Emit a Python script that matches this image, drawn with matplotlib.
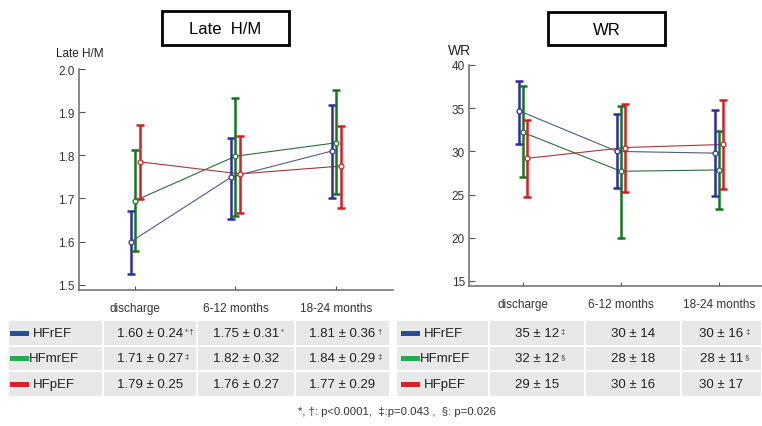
"""
Late H/M and WR over follow-up, by HF group
"""
import numpy as np
import matplotlib
matplotlib.use('Agg')
import matplotlib.pyplot as plt
from matplotlib.patches import Rectangle

plt.rcParams['font.family'] = ['Liberation Sans', 'DejaVu Sans']

# ---------------- data ----------------
times = ['discharge', '6-12 months', '18-24 months']
groups = ['HFrEF', 'HFmrEF', 'HFpEF']

# Late H/M: mean and error bar ends
hm_mean = {'HFrEF': [1.60, 1.75, 1.81], 'HFmrEF': [1.695, 1.798, 1.829], 'HFpEF': [1.785, 1.757, 1.775]}
hm_lo = {'HFrEF': [1.525, 1.652, 1.70], 'HFmrEF': [1.578, 1.66, 1.71], 'HFpEF': [1.698, 1.666, 1.677]}
hm_hi = {'HFrEF': [1.67, 1.84, 1.917], 'HFmrEF': [1.812, 1.932, 1.952], 'HFpEF': [1.871, 1.845, 1.869]}

# WR
wr_mean = {'HFrEF': [34.7, 30.0, 29.8], 'HFmrEF': [32.2, 27.7, 27.85], 'HFpEF': [29.2, 30.45, 30.8]}
wr_lo = {'HFrEF': [30.9, 25.8, 24.8], 'HFmrEF': [27.0, 20.0, 23.3], 'HFpEF': [24.7, 25.3, 25.7]}
wr_hi = {'HFrEF': [38.1, 34.3, 34.8], 'HFmrEF': [37.6, 35.3, 32.4], 'HFpEF': [33.6, 35.5, 35.9]}

# table text: (value, superscript)
hm_table = {
    'HFrEF': [('1.60 ± 0.24', '*·†'), ('1.75 ± 0.31', '*'), ('1.81 ± 0.36', '†')],
    'HFmrEF': [('1.71 ± 0.27', '‡'), ('1.82 ± 0.32', ''), ('1.84 ± 0.29', '‡')],
    'HFpEF': [('1.79 ± 0.25', ''), ('1.76 ± 0.27', ''), ('1.77 ± 0.29', '')],
}
wr_table = {
    'HFrEF': [('35 ± 12', '‡'), ('30 ± 14', ''), ('30 ± 16', '‡')],
    'HFmrEF': [('32 ± 12', '§'), ('28 ± 18', ''), ('28 ± 11', '§')],
    'HFpEF': [('29 ± 15', ''), ('30 ± 16', ''), ('30 ± 17', '')],
}
footnote = '*, †: p<0.0001,  ‡:p=0.043 ,  §: p=0.026'

# ---------------- styles ----------------
bar_col = {'HFrEF': '#2b2f9c', 'HFmrEF': '#17751f', 'HFpEF': '#d11f26'}
line_col = {'HFrEF': '#4d5c86', 'HFmrEF': '#2f6b3c', 'HFpEF': '#a3383a'}
swatch_col = {'HFrEF': '#2a4d97', 'HFmrEF': '#20ad4a', 'HFpEF': '#e01e25'}
offset = {'HFrEF': -0.04, 'HFmrEF': 0.0, 'HFpEF': 0.045}

W, H = 762, 427
fig = plt.figure(figsize=(W / 100, H / 100), dpi=100)


def panel(rect, mean, lo, hi, ylim, yticks, fmt, xlim):
    ax = fig.add_axes(rect)
    x = np.arange(len(times))
    for g in groups:
        xs = x + offset[g]
        m = np.array(mean[g]); l = np.array(lo[g]); h = np.array(hi[g])
        ax.plot(xs, m, color=line_col[g], lw=0.8, zorder=2)
        ax.errorbar(xs, m, yerr=[m - l, h - m], fmt='none', ecolor=bar_col[g],
                    elinewidth=1.8, capsize=3, capthick=1.8, zorder=3)
        ax.plot(xs, m, 'o', ms=3.5, mfc='white', mec=bar_col[g], mew=0.9, zorder=4)
    ax.set_xlim(*xlim); ax.set_ylim(*ylim)
    ax.set_yticks(yticks)
    ax.set_yticklabels([fmt.format(v) for v in yticks], fontsize=8.5, color='#333333')
    ax.set_xticks(x)
    ax.set_xticklabels(times, fontsize=8.5, color='#333333')
    ax.tick_params(axis='y', direction='in', length=4, width=0.8, color='#555555', pad=3)
    ax.tick_params(axis='x', direction='in', length=3, width=0.8, color='#555555', pad=9)
    for s in ['top', 'right']:
        ax.spines[s].set_visible(False)
    for s in ['left', 'bottom']:
        ax.spines[s].set_color('#6a6a6a'); ax.spines[s].set_linewidth(1.1)
    return ax


ax1 = panel([79 / W, 1 - 291 / H, 314 / W, 221 / H], hm_mean, hm_lo, hm_hi,
            (1.488, 2.0), np.round(np.arange(1.5, 2.01, 0.1), 1), '{:.1f}', (-0.557, 2.567))
ax2 = panel([469 / W, 1 - 287 / H, 293 / W, 221 / H], wr_mean, wr_lo, wr_hi,
            (14.42, 40), np.arange(15, 41, 5), '{:d}', (-0.551, 2.44))

fig.text(56 / W, 1 - 54 / H, 'Late H/M', fontsize=8.5, va='center', ha='left', color='#222222')
fig.text(448 / W, 1 - 51 / H, 'WR', fontsize=10, va='center', ha='left', color='#222222')

# overlay in pixel coordinates for boxes and table
ov = fig.add_axes([0, 0, 1, 1], zorder=-1)
ov.set_xlim(0, W); ov.set_ylim(H, 0); ov.axis('off')

for (x0, x1, y0, y1, t) in [(162, 289, 12, 46, 'Late  H/M'), (548, 665, 13, 46, 'WR')]:
    ov.add_patch(Rectangle((x0, y0), x1 - x0, y1 - y0, fill=False, ec='black', lw=2.0))
    ov.text((x0 + x1) / 2, (y0 + y1) / 2 + 1, t, ha='center', va='center', fontsize=12)

row_edges = [321, 347, 372, 398]


def table(col_edges, data, sw_x):
    for r, g in enumerate(groups):
        y0, y1 = row_edges[r], row_edges[r + 1]
        yc = (y0 + y1) / 2
        for c in range(4):
            ov.add_patch(Rectangle((col_edges[c], y0), col_edges[c + 1] - col_edges[c], y1 - y0,
                                   fc='#e8e8e8', ec='white', lw=1.5))
        ov.add_patch(Rectangle((sw_x, yc - 2.5), 19, 5, fc=swatch_col[g], ec='none'))
        tx = sw_x + 19 if g == 'HFmrEF' else sw_x + 23
        ov.text(tx, yc, g, ha='left', va='center', fontsize=9.5, color='#222222')
        for c, (val, sup) in enumerate(data[g]):
            xc = (col_edges[c + 1] + col_edges[c + 2]) / 2
            t = ov.text(xc, yc, val, ha='center', va='center', fontsize=9.5, color='#222222')
            if sup:
                ov.annotate(sup, xy=(1, 0.95), xycoords=t, xytext=(1, 0), textcoords='offset points',
                            ha='left', va='top', fontsize=5.5, color='#333333')


table([8, 103, 197, 295, 390], hm_table, 10)
table([396, 489, 585, 681, 762], wr_table, 401)

fig.text(397 / W, 1 - 412 / H, footnote, ha='center', va='center', fontsize=8.2, color='#333333')

fig.savefig('out.png', dpi=100)
print('Saved: out.png')
